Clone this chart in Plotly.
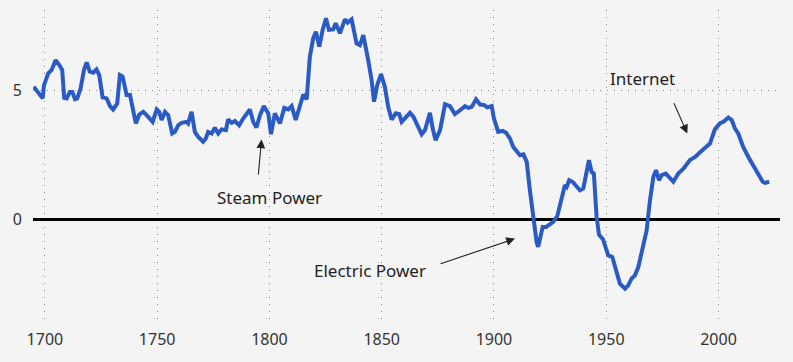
import plotly.graph_objects as go

years = [1695, 1696.6, 1698.1, 1699, 1699.6, 1701.5, 1703, 1704.8, 1706.4, 1707.7,
         1708.6, 1709.7, 1711.1, 1712.2, 1713.4, 1714.4, 1715.9, 1717.4, 1718.6, 1720,
         1721.5, 1723, 1724.2, 1725.7, 1727.5, 1729, 1730.4, 1732.2, 1733.4, 1734.6,
         1736.4, 1737.9, 1739.3, 1740.5, 1742, 1743.8, 1745.3, 1746.8, 1748, 1749.8,
         1750.9, 1752, 1753.5, 1754.9, 1756.7, 1757.9, 1759.4, 1760.9, 1763.1, 1763.8,
         1765.3, 1766.8, 1768.3, 1770.5, 1771.7, 1772.7, 1774.3, 1775.7, 1777.2, 1778.7,
         1780.6, 1781.6, 1783.2, 1784.6, 1786.5, 1788.3, 1791.3, 1792.8, 1794.2, 1795.8,
         1797.5, 1799.5, 1800.7, 1802.4, 1804.7, 1806.6, 1808.4, 1809.9, 1811.7, 1815.1,
         1816.6, 1818, 1819.5, 1820.7, 1822.2, 1823.7, 1825.2, 1826.5, 1828.4, 1829.5,
         1831.4, 1833.6, 1834.8, 1836.6, 1838.8, 1840.3, 1841.8, 1844, 1845.5, 1846.6,
         1848, 1849.7, 1851.4, 1852.9, 1854.4, 1856.3, 1857.8, 1858.9, 1860.4, 1862.6,
         1864.1, 1866.3, 1867.8, 1869.3, 1871.5, 1872.7, 1874, 1876, 1878.2, 1880.4,
         1882.6, 1884.9, 1887.1, 1888.6, 1890.1, 1892, 1893.8, 1895.7, 1897, 1899,
         1900, 1901.9, 1903.9, 1905.4, 1907.1, 1908.6, 1910.4, 1911.6, 1913.1, 1914.6,
         1916, 1917.5, 1919, 1919.7, 1920.5, 1921.7, 1923.2, 1924.9, 1926.4, 1928.2,
         1929.7, 1931.6, 1932.4, 1933.5, 1935, 1936.8, 1938.3, 1939.8, 1941.3, 1942.3,
         1943.5, 1944.5, 1945.7, 1946.8, 1948.6, 1950.9, 1952.7, 1954.2, 1956.1, 1958.4,
         1959.8, 1961.3, 1962.8, 1964.3, 1966.5, 1968, 1969.5, 1971, 1972.2, 1973.5,
         1974.7, 1976.5, 1977.9, 1979.9, 1982.1, 1984.4, 1987.3, 1989.6, 1991.8, 1994,
         1996.2, 1998.4, 2000.7, 2002.2, 2004.4, 2005.9, 2007.3, 2008.8, 2011, 2013.3,
         2015.5, 2017.7, 2019.7, 2020.7, 2022.6]

values = [5.13, 4.95, 4.72, 4.68, 5.19, 5.65, 5.78, 6.16, 5.97, 5.78,
          4.70, 4.68, 4.93, 4.93, 4.65, 4.68, 5.07, 5.78, 6.07, 5.71,
          5.67, 5.80, 5.58, 4.72, 4.68, 4.38, 4.25, 4.48, 5.58, 5.52,
          4.81, 4.81, 4.22, 3.71, 4.05, 4.16, 4.03, 3.90, 3.77, 4.25,
          4.16, 3.84, 4.16, 4.03, 3.32, 3.38, 3.64, 3.73, 3.77, 3.71,
          4.16, 3.38, 3.19, 3.00, 3.13, 3.38, 3.32, 3.54, 3.32, 3.48,
          3.45, 3.86, 3.73, 3.80, 3.64, 3.90, 4.25, 3.77, 3.55, 4.03,
          4.38, 4.10, 3.29, 4.10, 3.71, 4.31, 4.25, 4.38, 3.84, 4.83,
          4.64, 6.29, 7.00, 7.26, 6.68, 7.33, 7.78, 7.33, 7.35, 7.59,
          7.20, 7.74, 7.61, 7.74, 6.81, 6.74, 7.13, 6.16, 5.39, 4.55,
          5.19, 5.62, 5.13, 4.35, 3.86, 4.10, 4.07, 3.77, 3.90, 4.12,
          3.97, 3.52, 3.29, 3.45, 4.12, 3.52, 3.06, 3.45, 4.45, 4.38,
          4.07, 4.22, 4.38, 4.31, 4.35, 4.64, 4.44, 4.42, 4.33, 4.38,
          3.90, 3.38, 3.42, 3.35, 3.13, 2.80, 2.61, 2.48, 2.51, 2.22,
          1.12, -0.04, -0.88, -1.07, -0.69, -0.30, -0.30, -0.17, -0.10, 0.12,
          0.67, 1.32, 1.25, 1.51, 1.45, 1.25, 1.12, 1.19, 1.77, 2.29,
          1.83, 1.77, 0.10, -0.60, -0.78, -1.40, -1.46, -1.91, -2.49, -2.69,
          -2.56, -2.30, -2.17, -1.85, -1.07, -0.43, 0.74, 1.64, 1.90, 1.51,
          1.71, 1.77, 1.64, 1.45, 1.77, 1.96, 2.29, 2.41, 2.59, 2.77,
          2.93, 3.48, 3.72, 3.77, 3.94, 3.84, 3.52, 3.32, 2.80, 2.41,
          2.09, 1.71, 1.45, 1.41, 1.45]

x_ticks = [1700, 1750, 1800, 1850, 1900, 1950, 2000]
y_ticks = [0, 5]

labels = ["Internet", "Steam Power", "Electric Power"]
label_x = [1966.3, 1800.2, 1844.8]
label_y = [5.43, 0.83, -2.0]
arrow_tip_x = [1986.1, 1796.5, 1909.4]
arrow_tip_y = [3.32, 3.09, -0.75]
arrow_tail_x = [1979.9, 1795.0, 1875.6]
arrow_tail_y = [4.55, 1.67, -1.74]

BG = "#f4f4f4"
FONT = "Noto Sans, Open Sans, sans-serif"

fig = go.Figure()
fig.add_trace(go.Scatter(
    x=years, y=values, mode="lines",
    line=dict(color="#2a5bc4", width=4, shape="linear"),
    hoverinfo="x+y", showlegend=False,
))

annotations = []
for i in range(len(labels)):
    annotations.append(dict(
        x=arrow_tip_x[i], y=arrow_tip_y[i], xref="x", yref="y",
        ax=arrow_tail_x[i], ay=arrow_tail_y[i], axref="x", ayref="y",
        text="", showarrow=True, arrowhead=2, arrowsize=1.6,
        arrowwidth=1.1, arrowcolor="#222", standoff=0, startstandoff=0,
    ))
    annotations.append(dict(
        x=label_x[i], y=label_y[i], xref="x", yref="y",
        text=labels[i], showarrow=False,
        font=dict(family=FONT, size=17, color="#222"),
        xanchor="center", yanchor="middle",
    ))

fig.update_layout(
    width=793, height=362,
    margin=dict(l=33, r=13, t=10, b=42, autoexpand=False),
    paper_bgcolor=BG, plot_bgcolor=BG,
    font=dict(family=FONT, size=16, color="#333"),
    showlegend=False,
    annotations=annotations,
    xaxis=dict(
        range=[1694.7, 2027.4], tickvals=x_ticks,
        ticktext=[str(v) for v in x_ticks],
        showgrid=True, gridcolor="#8f8f8f", griddash="1px,6px", gridwidth=1.3,
        zeroline=False, showline=False, ticks="", automargin=False,
        ticklabelstandoff=8,
        tickfont=dict(family=FONT, size=16, color="#333"),
    ),
    yaxis=dict(
        range=[-3.9, 8.1], tickvals=y_ticks,
        ticktext=[str(v) for v in y_ticks],
        showgrid=True, gridcolor="#8f8f8f", griddash="1px,6px", gridwidth=1.3,
        zeroline=True, zerolinecolor="#000", zerolinewidth=3,
        showline=False, ticks="", ticklabelstandoff=10, automargin=False,
        tickfont=dict(family=FONT, size=16, color="#333"),
    ),
)

fig.write_html(
    "out.html",
    config={"displayModeBar": False},
    post_script="document.body.style.margin='0';document.body.style.background='#f4f4f4';",
)
